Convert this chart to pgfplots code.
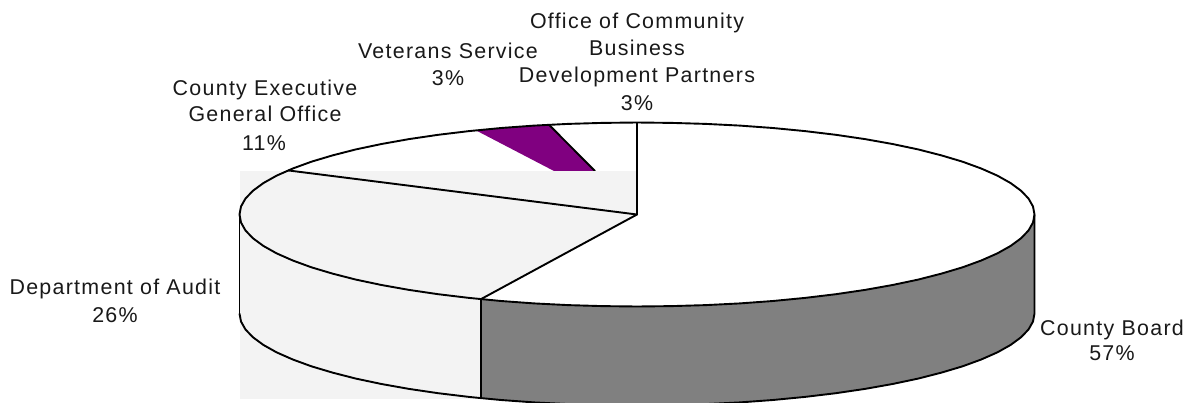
\documentclass[border=0pt]{standalone}
\usepackage{fontspec}
\setmainfont[LetterSpace=6]{Liberation Sans}
\usepackage{pgfplots}
\pgfplotsset{compat=1.18}
\definecolor{sliceGrey}{HTML}{F3F3F3}
\definecolor{wallGrey}{HTML}{808080}
\definecolor{vetPurple}{HTML}{800080}
\tikzset{
  lbl/.style={anchor=base, inner sep=0pt, font=\fontsize{21.4}{25}\selectfont, text=black!90},
  rim/.style={draw=black, line width=1.9pt, line join=round},
}
\begin{document}
\begin{tikzpicture}
\useasboundingbox (0,0) rectangle (1191pt,402pt);
\begin{axis}[
  at={(0,0)}, anchor=south west,
  scale only axis, width=1191pt, height=402pt,
  xmin=0, xmax=1191, ymin=0, ymax=402, y dir=reverse,
  hide axis, clip=true, no markers,
]
% Veterans Service top face, upper part
\addplot[fill=vetPurple, draw=none] coordinates {
  (476,130.4) (501.1,128.0) (534.1,125.6) (549,124.8) (595,171) (554,171)};
\addplot[rim] coordinates {(549,124.8) (595,171)};

% Department of Audit and County Executive panel
\addplot[fill=sliceGrey, draw=none] coordinates {
  (239.5,171) (637,171) (637,398.5) (239.5,398.5)};

% County Board top face
\addplot[fill=white, draw=none] coordinates {
  (637,214.5) (481,299.1) (501.1,301.0) (534.1,303.4) (568,305.1) (602.3,306.1)
  (637,306.5) (671.7,306.1) (706,305.1) (739.9,303.4) (772.9,301.0) (805,297.9)
  (835.8,294.2) (865,289.9) (892.5,285.0) (918.1,279.6) (941.5,273.6) (962.6,267.3)
  (981.2,260.5) (997.3,253.4) (1010.5,246.0) (1021,238.3) (1028.5,230.5) (1033,222.5)
  (1034.5,214.5) (1033,206.5) (1028.5,198.5) (1021,190.7) (1010.5,183.0) (997.3,175.6)
  (981.2,168.5) (962.6,161.7) (941.5,155.4) (918.1,149.4) (892.5,144.0) (865,139.1)
  (835.8,134.8) (805,131.1) (772.9,128.0) (739.9,125.6) (706,123.9) (671.7,122.9)
  (637,122.5)};

% County Board wall
\addplot[fill=wallGrey, draw=none] coordinates {
  (481,299.1) (501.1,301.0) (534.1,303.4) (568,305.1) (602.3,306.1)
  (637,306.5) (671.7,306.1) (706,305.1) (739.9,303.4) (772.9,301.0) (805,297.9)
  (835.8,294.2) (865,289.9) (892.5,285.0) (918.1,279.6) (941.5,273.6) (962.6,267.3)
  (981.2,260.5) (997.3,253.4) (1010.5,246.0) (1021,238.3) (1028.5,230.5) (1033,222.5)
  (1034.5,214.5) (1034.5,313.5) (1033,321.5) (1028.5,329.5) (1021,337.3) (1010.5,345.0)
  (997.3,352.4) (981.2,359.5) (962.6,366.3) (941.5,372.6) (918.1,378.6) (892.5,384.0)
  (865,388.9) (835.8,393.2) (805,396.9) (772.9,400.0) (739.9,402.4) (706,404.1)
  (671.7,405.1) (637,405.5) (602.3,405.1) (568,404.1) (534.1,402.4) (501.1,400.0)
  (481,398.1)};

% Top face outline
\addplot[rim] coordinates {
  (1034.5,214.5) (1033,206.5) (1028.5,198.5) (1021,190.7) (1010.5,183.0) (997.3,175.6)
  (981.2,168.5) (962.6,161.7) (941.5,155.4) (918.1,149.4) (892.5,144.0) (865,139.1)
  (835.8,134.8) (805,131.1) (772.9,128.0) (739.9,125.6) (706,123.9) (671.7,122.9)
  (637,122.5) (602.3,122.9) (568,123.9) (534.1,125.6) (501.1,128.0) (469,131.1)
  (438.2,134.8) (409,139.1) (381.5,144.0) (355.9,149.4) (332.5,155.4) (311.4,161.7)
  (292.8,168.5) (276.7,175.6) (263.5,183.0) (253,190.7) (245.5,198.5) (241,206.5)
  (239.5,214.5) (241,222.5) (245.5,230.5) (253,238.3) (263.5,246.0) (276.7,253.4)
  (292.8,260.5) (311.4,267.3) (332.5,273.6) (355.9,279.6) (381.5,285.0) (409,289.9)
  (438.2,294.2) (469,297.9) (501.1,301.0) (534.1,303.4) (568,305.1) (602.3,306.1)
  (637,306.5) (671.7,306.1) (706,305.1) (739.9,303.4) (772.9,301.0) (805,297.9)
  (835.8,294.2) (865,289.9) (892.5,285.0) (918.1,279.6) (941.5,273.6) (962.6,267.3)
  (981.2,260.5) (997.3,253.4) (1010.5,246.0) (1021,238.3) (1028.5,230.5) (1033,222.5)
  (1034.5,214.5)};

% Lower rim of the wall
\addplot[rim] coordinates {
  (1034.5,214.5) (1034.5,313.5) (1033,321.5) (1028.5,329.5) (1021,337.3) (1010.5,345.0)
  (997.3,352.4) (981.2,359.5) (962.6,366.3) (941.5,372.6) (918.1,378.6) (892.5,384.0)
  (865,388.9) (835.8,393.2) (805,396.9) (772.9,400.0) (739.9,402.4) (706,404.1)
  (671.7,405.1) (637,405.5) (602.3,405.1) (568,404.1) (534.1,402.4) (501.1,400.0)
  (481,398.1) (469,396.9) (438.2,393.2) (409,388.9) (381.5,384.0) (355.9,378.6)
  (332.5,372.6) (311.4,366.3) (292.8,359.5) (276.7,352.4) (263.5,345.0) (253,337.3)
  (245.5,329.5) (241,321.5) (239.5,313.5)};
\addplot[draw=black, line width=1.1pt] coordinates {(239.5,214.5) (239.5,313.5)};
\addplot[rim] coordinates {(481,299.1) (481,398.1)};

% Slice boundaries on the top face
\addplot[rim] coordinates {(637,122.5) (637,214.5) (288,170.4)};
\addplot[rim] coordinates {(637,214.5) (481,299.1)};

% Slice labels
\node[lbl] at (axis cs:637,28) {Office of Community};
\node[lbl] at (axis cs:637,55) {Business};
\node[lbl] at (axis cs:637,82) {Development Partners};
\node[lbl] at (axis cs:637,110) {3\%};
\node[lbl] at (axis cs:448,58) {Veterans Service};
\node[lbl] at (axis cs:448,85) {3\%};
\node[lbl] at (axis cs:265,95) {County Executive};
\node[lbl] at (axis cs:265,121) {General Office};
\node[lbl] at (axis cs:264,150) {11\%};
\node[lbl] at (axis cs:115,294) {Department of Audit};
\node[lbl] at (axis cs:115,322) {26\%};
\node[lbl] at (axis cs:1112,335) {County Board};
\node[lbl] at (axis cs:1112,360) {57\%};
\end{axis}
\end{tikzpicture}
\end{document}
